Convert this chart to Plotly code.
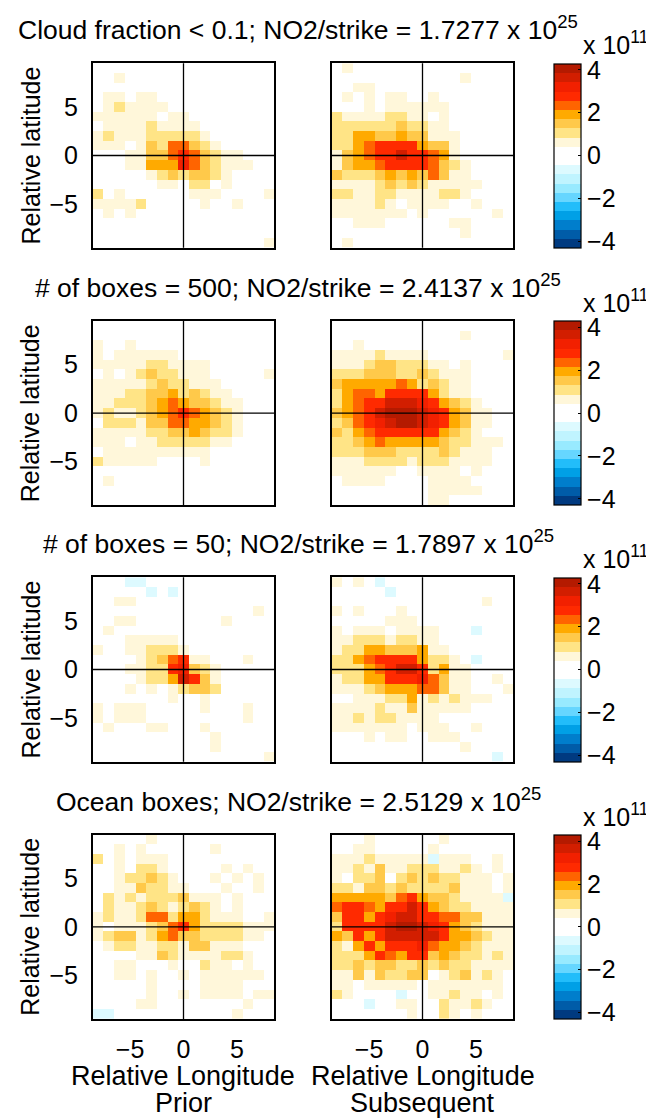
import plotly.graph_objects as go

# The page body has an 8px margin, so the figure is drawn from (8, 8).
OFF = 8
W, H = 654 - OFF, 1120 - OFF
FONT = "Liberation Sans, Arial, Helvetica, sans-serif"

# grid centres (degrees relative to strike)
lon = list(range(-8, 9))            # 17 columns
lat = list(range(9, -10, -1))       # 19 rows, top row first

# colour-band width of the (units of 1e11) colour scale
BAND = 0.43
ZMAX = 4.3

# Cell values coded by colour band: '0' ~ 0, '1'..'9' positive bands, 'a','b' negative bands
cloud_prior = [
    "00000000000000000", "00100000000000000", "00000000000000000", "01101100000000000",
    "01211110000000000", "11111101100000000", "01111211110000000", "12111222221000000",
    "11101325532100000", "00011335653211000", "00011444753211100", "00000123233210000",
    "00000011022010000", "20100000011100001", "11112000001001000", "01010000000000000",
    "00000000000000000", "00000000000000000", "00000000000000001"]
cloud_subseq = [
    "01000000000000000", "00000000000010000", "00110000000000000", "01010110010000000",
    "00010111111000000", "21111221101000000", "22222232211000000", "22443343311100000",
    "22456666433100000", "13456686654100000", "13445666653210000", "32223434353110000",
    "11112323211111000", "22112211112210000", "11112101111001000", "11111110100000010",
    "00111000000110000", "00000000000010000", "01000000000000000"]
box500_prior = [
    "00000000000000000", "00000000000000000", "10010000000000000", "10111111000000000",
    "11111221111000000", "01012322111000001", "11111232211100000", "11122334232110000",
    "11222345433211000", "12112345654321000", "02221335544321000", "11111223343221000",
    "11101122222110000", "01111111111000000", "21111100001000000", "00000000000000000",
    "01000000000000000", "00000000000000000", "00000000000000000"]
box500_subseq = [
    "00000000000000000", "00000000000010000", "00100000000000000", "11112111100000001",
    "11123322211010000", "22233322321110000", "34444454232110000", "24554666642110000",
    "24566888764321000", "34568999876431100", "23567899876431100", "32456666664321000",
    "22345444443221110", "22233322223211100", "11122221222111100", "11111100111101000",
    "01111000011110000", "00000000011111000", "00000000011000000"]
box50_prior = [
    "000aa000000000000", "00000a0a000000000", "00110000000000000", "00000000000000010",
    "00110000000010000", "01000000000000000", "00011111000000000", "10011222100000000",
    "00001235611000100", "00011226732100000", "00001224863100000", "00010101233200000",
    "00000001001000000", "10111000001000100", "10111000000000100", "01000110001000000",
    "00000000000100000", "00000000000100000", "00000000000000001"]
box50_subseq = [
    "1010a000000000000", "00000a00000000000", "00000000000000100", "10100010000000000",
    "00000111000000000", "1011101111000a000", "11222122110000000", "12244333411000000",
    "2245666642210a000", "22245688624110000", "12244666753110010", "11123444553110001",
    "00111224121211100", "11112113111110000", "11212211110000000", "11111110111001000",
    "00010110011100000", "00000000000010000", "000000000000000a0"]
ocean_prior = [
    "00000100000000000", "00101000000100000", "20101110000000000", "00102210000010100",
    "00122321000101010", "00113221100010010", "02121222311101000", "02112321232101000",
    "12112552442111001", "10111235642222111", "12331245332222110", "01221122133111000",
    "00001132111122100", "00110001002110100", "00110100101111110", "00000100001111000",
    "00000100101111011", "00001100000000100", "aa000000000001000"]
ocean_subseq = [
    "00010000001000000", "00110000010000000", "111211111a1110010", "11213112221121010",
    "10223023232211101", "22133232222311101", "4444435643321111a", "56654668643221111",
    "36646788665533111", "26666899876432111", "43646888886443211", "21464666754432111",
    "22246546634322121", "22323322323221111", "11313223301231210", "11011111011111110",
    "210000a0011211010", "000a0011002112100", "00000001002101000"]

row_titles = [
    "Cloud fraction &lt; 0.1; NO2/strike = 1.7277 x 10<sup>25</sup>",
    "# of boxes = 500; NO2/strike = 2.4137 x 10<sup>25</sup>",
    "# of boxes = 50; NO2/strike = 1.7897 x 10<sup>25</sup>",
    "Ocean boxes; NO2/strike = 2.5129 x 10<sup>25</sup>",
]
panels = [(cloud_prior, cloud_subseq), (box500_prior, box500_subseq),
          (box50_prior, box50_subseq), (ocean_prior, ocean_subseq)]
col_labels = ["Prior", "Subsequent"]
cbar_ticks = [-4, -2, 0, 2, 4]

pos_colors = ['#FFFFFF', '#FFF7DA', '#FFE486', '#FFC94A', '#FFAA00',
              '#FF6400', '#FF2A00', '#F22000', '#D21E00', '#B41A00']
neg_colors = ['#FFFFFF', '#DDFAFF', '#C0F4FF', '#98EAFF', '#66D6FF',
              '#22BDFA', '#00A0E6', '#007ECC', '#005CA8', '#003A80']


def decode(rows):
    z = []
    for r in rows:
        r = (r + "0" * 17)[:17]
        vals = []
        for ch in r:
            if ch == '0':
                vals.append(0.0)
            elif ch.isdigit():
                vals.append((int(ch) + 0.5) * BAND)
            else:
                vals.append(-((ord(ch) - ord('a')) + 1.5) * BAND)
        z.append(vals)
    return z


bands = list(reversed(neg_colors)) + pos_colors
n = len(bands)
colorscale = []
for i, c in enumerate(bands):
    colorscale.append([i / n, c])
    colorscale.append([(i + 1) / n, c])

# layout geometry in page pixels
x_doms = [(92.7, 274.3), (331.7, 513.3)]
row_tops = [63.3, 321.0, 577.3, 834.6]
box_h = 184.4


def px(xp):
    return (xp - OFF) / W


def py(yp):
    return 1 - (yp - OFF) / H


fig = go.Figure()
layout = dict(width=W, height=H, margin=dict(l=0, r=0, t=0, b=0, autoexpand=False),
              paper_bgcolor='white', plot_bgcolor='white', showlegend=False,
              font=dict(family=FONT, size=25, color='black'))
shapes = []
annotations = []
for r in range(4):
    top = row_tops[r]
    for c in range(2):
        k = 2 * r + c + 1
        xa = 'x' if k == 1 else f'x{k}'
        ya = 'y' if k == 1 else f'y{k}'
        tr = dict(x=lon, y=lat, z=decode(panels[r][c]), zmin=-ZMAX, zmax=ZMAX,
                  colorscale=colorscale, xaxis=xa, yaxis=ya, hoverinfo='skip',
                  showscale=(c == 1))
        if c == 1:
            tr['colorbar'] = dict(
                x=px(554.3), xanchor='left', xpad=0, ypad=0,
                y=py(top + box_h / 2), yanchor='middle',
                len=box_h, lenmode='pixels', thickness=27.4, thicknessmode='pixels',
                outlinewidth=1.2, outlinecolor='black',
                tickvals=cbar_ticks, ticks='inside', ticklen=3, tickcolor='black',
                tickfont=dict(size=25, family=FONT, color='black'))
        fig.add_trace(go.Heatmap(**tr))
        axkey = 'xaxis' if k == 1 else f'xaxis{k}'
        aykey = 'yaxis' if k == 1 else f'yaxis{k}'
        layout[axkey] = dict(domain=[px(x_doms[c][0]), px(x_doms[c][1])], anchor=ya,
                             range=[-8.5, 8.5], tickvals=[-5, 0, 5],
                             showticklabels=(r == 3), ticks='', showgrid=False,
                             zeroline=False, showline=True, mirror=True,
                             linecolor='black', linewidth=1.5, ticklabelstandoff=7,
                             tickfont=dict(size=25, family=FONT, color='black'))
        layout[aykey] = dict(domain=[py(top + box_h), py(top)], anchor=xa,
                             range=[-9.5, 9.5], tickvals=[-5, 0, 5],
                             showticklabels=(c == 0), ticks='', showgrid=False,
                             zeroline=False, showline=True, mirror=True,
                             linecolor='black', linewidth=1.5, ticklabelstandoff=8,
                             tickfont=dict(size=25, family=FONT, color='black'))
        shapes.append(dict(type='line', xref=xa, yref=f'{ya} domain', x0=0, x1=0,
                           y0=0, y1=1, line=dict(color='black', width=1.3), layer='above'))
        shapes.append(dict(type='line', xref=f'{xa} domain', yref=ya, x0=0, x1=1,
                           y0=0, y1=0, line=dict(color='black', width=1.3), layer='above'))
        if r == 3:
            cx = px((x_doms[c][0] + x_doms[c][1]) / 2)
            annotations.append(dict(text="Relative Longitude", x=cx, y=py(1076),
                                    xref='paper', yref='paper', showarrow=False,
                                    xanchor='center', yanchor='middle', font=dict(size=27)))
            annotations.append(dict(text=col_labels[c], x=cx, y=py(1103),
                                    xref='paper', yref='paper', showarrow=False,
                                    xanchor='center', yanchor='middle', font=dict(size=27)))
    annotations.append(dict(text=row_titles[r], x=px(298), y=py(top - 35),
                            xref='paper', yref='paper', showarrow=False,
                            xanchor='center', yanchor='middle', font=dict(size=26.5)))
    annotations.append(dict(text="x 10<sup>11</sup>", x=px(581), y=py(top - 20),
                            xref='paper', yref='paper', showarrow=False,
                            xanchor='left', yanchor='middle', font=dict(size=25)))
    annotations.append(dict(text="Relative latitude", x=px(30), y=py(top + box_h / 2),
                            xref='paper', yref='paper', showarrow=False, textangle=-90,
                            xanchor='center', yanchor='middle', font=dict(size=25)))

layout['shapes'] = shapes
layout['annotations'] = annotations
fig.update_layout(**layout)
fig.write_html("out.html")
